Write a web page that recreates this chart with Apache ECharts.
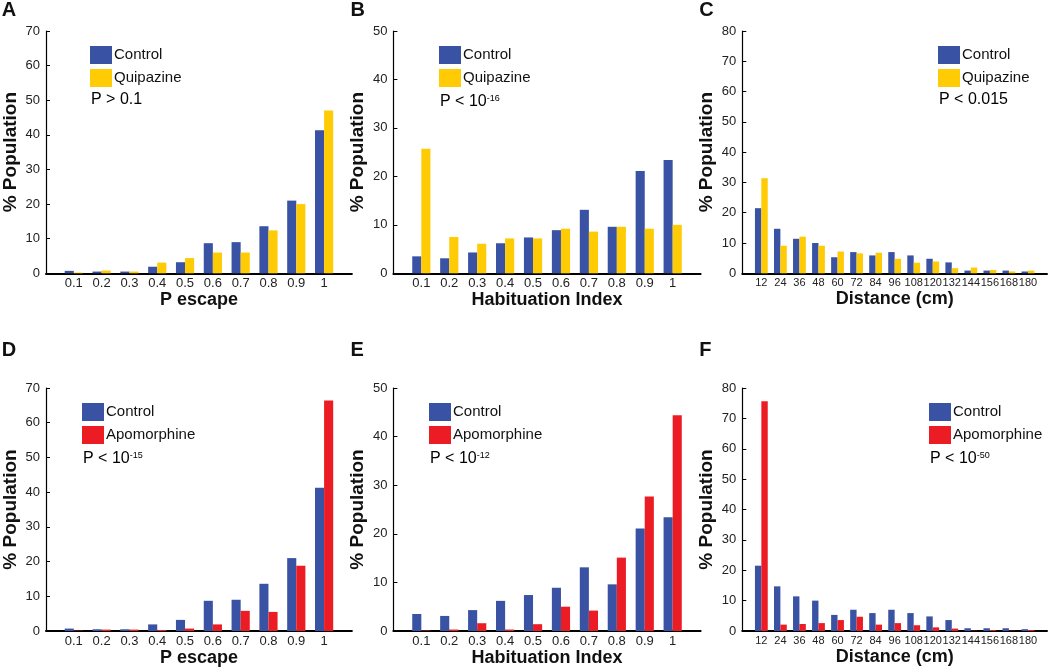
<!DOCTYPE html>
<html>
<head>
<meta charset="utf-8">
<script src="https://cdn.jsdelivr.net/npm/echarts@6/dist/echarts.min.js"></script>
<style>
html,body{margin:0;padding:0;background:#fff;}
#chart{width:1050px;height:668px;}
</style>
</head>
<body>
<div id="chart"></div>
<script>
// ---- data ----
var pEscapeBins = [0.1, 0.2, 0.3, 0.4, 0.5, 0.6, 0.7, 0.8, 0.9, 1];
var habituationBins = [0.1, 0.2, 0.3, 0.4, 0.5, 0.6, 0.7, 0.8, 0.9, 1];
var distanceBins = [12, 24, 36, 48, 60, 72, 84, 96, 108, 120, 132, 144, 156, 168, 180];

var pEscapeControl = [0.7, 0.5, 0.5, 1.9, 3.2, 8.7, 9.0, 13.6, 21.0, 41.3];
var pEscapeQuipazine = [0.2, 0.8, 0.5, 3.1, 4.4, 6.0, 6.0, 12.4, 20.0, 47.0];
var pEscapeApomorphine = [0.1, 0.4, 0.4, 0.3, 0.7, 1.9, 5.8, 5.5, 18.8, 66.4];

var habituationControl = [3.5, 3.1, 4.3, 6.2, 7.4, 8.9, 13.1, 9.6, 21.1, 23.4];
var habituationQuipazine = [25.7, 7.5, 6.1, 7.2, 7.2, 9.2, 8.6, 9.6, 9.2, 10.0];
var habituationApomorphine = [0.1, 0.3, 1.6, 0.3, 1.4, 5.0, 4.2, 15.1, 27.7, 44.4];

var distanceControl = [21.5, 14.7, 11.4, 10.0, 5.3, 7.0, 5.9, 7.0, 5.9, 4.8, 3.6, 0.9, 0.9, 0.9, 0.6];
var distanceQuipazine = [31.4, 9.1, 12.1, 9.1, 7.2, 6.6, 6.8, 4.8, 3.5, 3.9, 1.7, 1.9, 1.1, 0.6, 0.9];
var distanceApomorphine = [75.6, 2.1, 2.3, 2.6, 3.6, 4.7, 2.1, 2.6, 1.9, 1.2, 0.8, 0.1, 0.3, 0.1, 0.3];

var panelLetters = ['A', 'B', 'C', 'D', 'E', 'F'];
var xTitles = ['P escape', 'Habituation Index', 'Distance (cm)', 'P escape', 'Habituation Index', 'Distance (cm)'];
var yMaxes = [70, 50, 80, 70, 50, 80];
var drugNames = ['Quipazine', 'Quipazine', 'Quipazine', 'Apomorphine', 'Apomorphine', 'Apomorphine'];
var pTexts = [
  {base: 'P > 0.1', sup: ''},
  {base: 'P < 10', sup: '-16'},
  {base: 'P < 0.015', sup: ''},
  {base: 'P < 10', sup: '-15'},
  {base: 'P < 10', sup: '-12'},
  {base: 'P < 10', sup: '-50'}
];

// ---- layout ----
var FONT = '"Liberation Sans", Arial, Helvetica, sans-serif';
var BLUE = '#3952a3', YELLOW = '#ffcb05', RED = '#ec1c24';
var colLeft = [44.7, 393.4, 742.3];
var rowTop = [31, 388];
var plotH = [242.3, 243];
var panelBins = [pEscapeBins, habituationBins, distanceBins, pEscapeBins, habituationBins, distanceBins];
var controlVals = [pEscapeControl, habituationControl, distanceControl, pEscapeControl, habituationControl, distanceControl];
var drugVals = [pEscapeQuipazine, habituationQuipazine, distanceQuipazine, pEscapeApomorphine, habituationApomorphine, distanceApomorphine];
var drugColors = [YELLOW, YELLOW, YELLOW, RED, RED, RED];
var legendLeft = [90, 439, 938, 82, 429, 929];
var legendTop = [46, 46, 46, 403, 403, 403];

var grids = [], xAxes = [], yAxes = [], series = [], legends = [], graphics = [];

for (var i = 0; i < 6; i++) {
  var col = i % 3, row = Math.floor(i / 3);
  var isDist = col === 2;
  var bins = panelBins[i];
  var xmax = isDist ? 192 : 1.1;
  var w = isDist ? 310 : 307.2;
  var bw = isDist ? 6.4 : 9.1;
  grids.push({left: colLeft[col], top: rowTop[row], width: w, height: plotH[row], containLabel: false});
  (function (isDist, xmax) {
    xAxes.push({
      type: 'value', gridIndex: i, min: 0, max: xmax, interval: isDist ? 12 : 0.1,
      splitLine: {show: false}, axisTick: {show: false},
      axisLine: {show: true, onZero: false, lineStyle: {color: '#000', width: 2}},
      axisLabel: {
        show: true, margin: 4, color: '#222', fontFamily: FONT, fontSize: isDist ? 11 : 13,
        showMinLabel: true, showMaxLabel: true,
        formatter: function (v) {
          if (v <= 0.001 || v >= xmax - 0.001) return '';
          return isDist ? String(Math.round(v)) : String(+v.toFixed(1));
        }
      },
      name: xTitles[i], nameLocation: 'middle', nameGap: 17,
      nameTextStyle: {fontFamily: FONT, fontWeight: 'bold', fontSize: 18, color: '#111'}
    });
  })(isDist, xmax);
  yAxes.push({
    type: 'value', gridIndex: i, min: 0, max: yMaxes[i], interval: 10,
    splitLine: {show: false},
    axisLine: {show: true, lineStyle: {color: '#000', width: 1.2}},
    axisTick: {show: true, inside: true, length: 4, lineStyle: {color: '#000', width: 1}},
    axisLabel: {margin: 6, color: '#222', fontFamily: FONT, fontSize: 13},
    name: '% Population', nameLocation: 'middle', nameRotate: 90, nameGap: 26,
    nameTextStyle: {fontFamily: FONT, fontWeight: 'bold', fontSize: 19, color: '#111'}
  });
  series.push({
    type: 'bar', name: 'Control', xAxisIndex: i, yAxisIndex: i,
    barGap: '0%', barWidth: bw,
    itemStyle: {color: BLUE},
    data: bins.map(function (b, j) { return [b, controlVals[i][j]]; })
  });
  series.push({
    type: 'bar', name: drugNames[i], xAxisIndex: i, yAxisIndex: i,
    barGap: '0%', barWidth: bw,
    itemStyle: {color: drugColors[i]},
    data: bins.map(function (b, j) { return [b, drugVals[i][j]]; })
  });
  legends.push({
    data: ['Control', drugNames[i]], left: legendLeft[i], top: legendTop[i],
    orient: 'vertical', itemWidth: 22, itemHeight: 18, itemGap: 5, padding: 0,
    icon: 'rect', selectedMode: false,
    textStyle: {fontFamily: FONT, fontSize: 15, color: '#111', padding: [0, 0, 0, -3]}
  });
  graphics.push({
    type: 'text', left: colLeft[col] - 43, top: row === 0 ? 0 : 340,
    style: {text: panelLetters[i], font: 'bold 20px ' + FONT, fill: '#111'}
  });
  var pt = pTexts[i];
  graphics.push({
    type: 'text', left: legendLeft[i] + 1, top: legendTop[i] + 46,
    style: {
      text: '{b|' + pt.base + '}' + (pt.sup ? '{s|' + pt.sup + '}' : ''),
      rich: {
        b: {fontFamily: FONT, fontSize: 16, color: '#111', lineHeight: 18, verticalAlign: 'bottom'},
        s: {fontFamily: FONT, fontSize: 9, color: '#111', lineHeight: 9, verticalAlign: 'top', padding: [2, 0, 0, 0]}
      }
    }
  });
}

var chart = echarts.init(document.getElementById('chart'), null, {renderer: 'canvas'});
chart.setOption({
  animation: false,
  backgroundColor: '#fff',
  grid: grids, xAxis: xAxes, yAxis: yAxes, series: series, legend: legends,
  graphic: graphics
});
</script>
</body>
</html>
